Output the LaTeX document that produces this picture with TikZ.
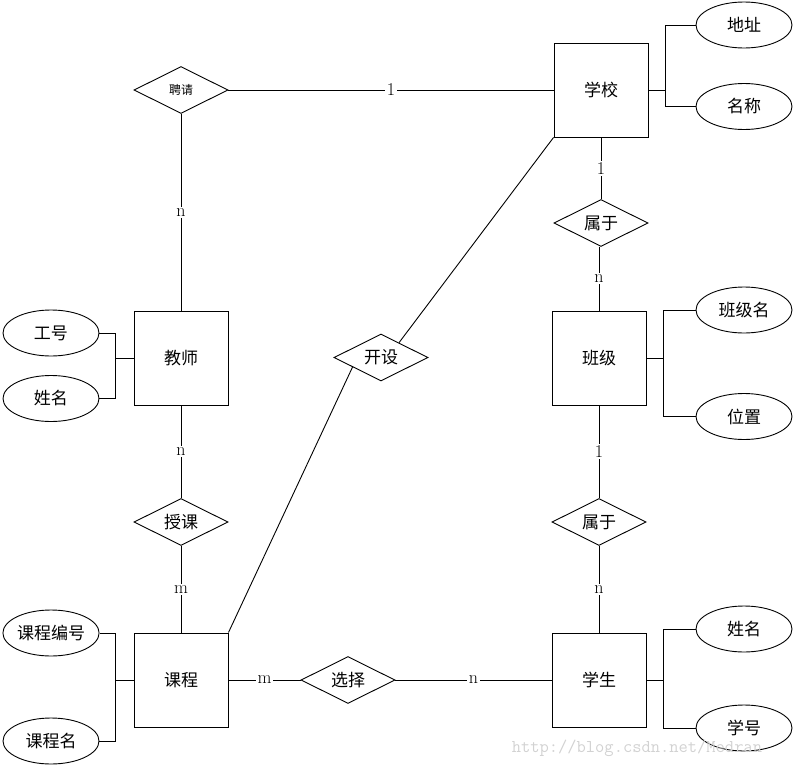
\documentclass[tikz,border=0pt]{standalone}
\usepackage{fontspec}
\newfontfamily\cjk{Noto Sans CJK SC}
\usetikzlibrary{shapes.geometric,calc}
\begin{document}
\begin{tikzpicture}[x=1pt,y=-1pt,line width=.9pt,
    entity/.style={draw,minimum width=94pt,minimum height=94pt,font=\cjk\fontsize{17}{17}\selectfont},
    rel/.style={draw,diamond,aspect=2,inner sep=0pt,minimum width=94pt,minimum height=47pt,font=\cjk\fontsize{17}{17}\selectfont},
    attr/.style={draw,ellipse,inner sep=0pt,minimum width=96pt,minimum height=46pt,font=\cjk\fontsize{17}{17}\selectfont},
    card/.style={fill=white,inner sep=1.5pt,font=\fontsize{18}{18}\selectfont}]
    \useasboundingbox (0,0) rectangle (793,766);
    %Entities
    \node[entity] (xuexiao) at (601,90) {学校};
    \node[entity] (jiaoshi) at (181,358) {教师};
    \node[entity] (banji) at (599,358) {班级};
    \node[entity] (kecheng) at (181,680) {课程};
    \node[entity] (xuesheng) at (599,680) {学生};
    %Relations
    \node[rel,font=\cjk\fontsize{12}{12}\selectfont] (pinqing) at (181,90) {聘请};
    \node[rel] (shuyu1) at (601,223) {属于};
    \node[rel] (kaishe) at (381,357.5) {开设};
    \node[rel] (shouke) at (181,522) {授课};
    \node[rel] (shuyu2) at (599,522) {属于};
    \node[rel] (xuanze) at (348,680) {选择};
    %Attributes
    \node[attr] (dizhi) at (744,25) {地址};
    \node[attr] (mingcheng) at (744,106.5) {名称};
    \node[attr] (gonghao) at (51,333) {工号};
    \node[attr] (xingming) at (51,398.5) {姓名};
    \node[attr] (bjm) at (744,310) {班级名};
    \node[attr] (weizhi) at (744,416.5) {位置};
    \node[attr] (kcbh) at (51,633) {课程编号};
    \node[attr] (kcm) at (51,741) {课程名};
    \node[attr] (xsxm) at (744,629) {姓名};
    \node[attr] (xuehao) at (744,728) {学号};
    %Links
    \draw (pinqing) -- node[card] {1} (xuexiao);
    \draw (pinqing) -- node[card] {n} (jiaoshi);
    \draw (jiaoshi) -- node[card] {n} (shouke);
    \draw (shouke) -- node[card] {m} (kecheng);
    \draw (kecheng) -- node[card] {m} (xuanze);
    \draw (xuanze) -- node[card] {n} (xuesheng);
    \draw (xuexiao) -- node[card] {1} (shuyu1);
    \draw (banji.north) ++(0,-64) -- node[card] {n} (banji.north);
    \draw (banji) -- node[card] {1} (shuyu2);
    \draw (shuyu2) -- node[card] {n} (xuesheng);
    \draw (kecheng.north east) -- ($(kaishe.west)!.4!(kaishe.south)$);
    \draw ($(kaishe.north)!.38!(kaishe.east)$) -- (xuexiao.south west);
    %Attribute brackets
    \draw (xuexiao.east) -- ++(17,0);
    \draw (dizhi.west) -| ($(xuexiao.east)+(17,0)$) |- (mingcheng.west);
    \draw (banji.east) -- ++(17,0);
    \draw (bjm.west) -| ($(banji.east)+(17,0)$) |- (weizhi.west);
    \draw (xuesheng.east) -- ++(17,0);
    \draw (xsxm.west) -| ($(xuesheng.east)+(17,0)$) |- (xuehao.west);
    \draw (jiaoshi.west) -- ++(-18,0);
    \draw (gonghao.east) -| ($(jiaoshi.west)+(-18,0)$) |- (xingming.east);
    \draw (kecheng.west) -- ++(-18,0);
    \draw (kcbh.east) -| ($(kecheng.west)+(-18,0)$) |- (kcm.east);
    %Watermark
    \node[text=gray!35,font=\ttfamily\fontsize{18}{18}\selectfont,anchor=west] (mark) at (508,748) {http://blog.csdn.net/Medran};
\end{tikzpicture}
\end{document}
